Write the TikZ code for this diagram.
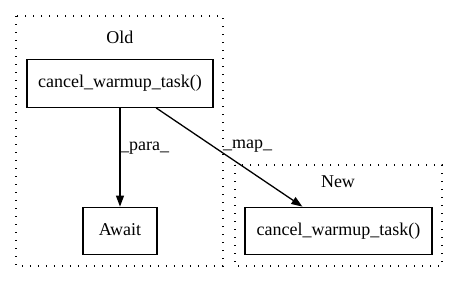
\documentclass[tikz,border=0pt]{standalone}
\usepackage{fontspec}
\setmainfont{Liberation Serif}
\usetikzlibrary{arrows.meta}
\begin{document}
\begin{tikzpicture}[x=1pt,y=-1pt,
  every node/.style={font=\fontsize{18}{20}\selectfont, inner sep=0pt},
  fn/.style={draw, line width=1.3pt, minimum height=47.5pt, text height=12.5pt, text depth=4pt},
  cluster/.style={line width=1.3pt, dash pattern=on 1.3pt off 6.7pt},
  flow/.style={line width=1.3pt, -{Triangle[length=11pt,width=8pt]}},
  lbl/.style={anchor=west}]
  \useasboundingbox (0,0) rectangle (459,282);

  % clusters
  \draw[cluster] (16,16) rectangle (223,266);
  \draw[cluster] (235,165) rectangle (442,266);
  \node (oldtitle) at (120,37) {Old};
  \node (newtitle) at (338,182) {New};

  % nodes
  \node[fn, minimum width=186pt] (old) at (120,83.5) {cancel\_warmup\_task()};
  \node[fn, minimum width=74pt] (await) at (120,231) {Await};
  \node[fn, minimum width=187pt] (new) at (338.5,231) {cancel\_warmup\_task()};

  % edges
  \draw[flow] (old) -- (await);
  \draw[flow] (old) -- (new);
  \node[lbl] (paralbl) at (120,148) {\_para\_};
  \node[lbl] (maplbl) at (223,146) {\_map\_};
\end{tikzpicture}
\end{document}
